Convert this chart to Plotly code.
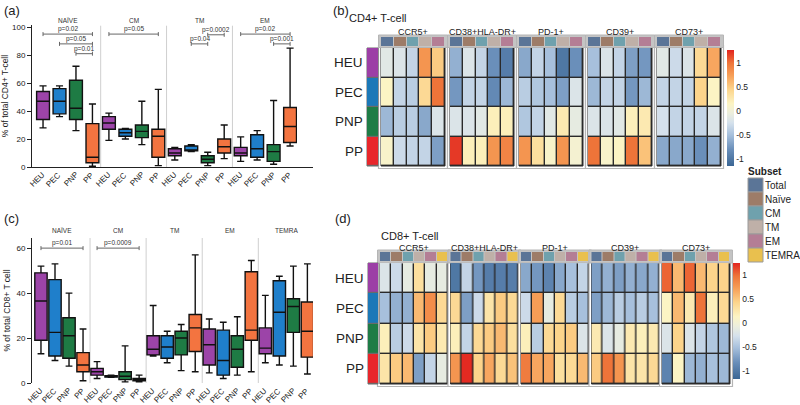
import plotly.graph_objects as go

W, H = 800, 405
FONT = "Arial, Liberation Sans, sans-serif"

# ---------------- data ----------------
groups = ["HEU", "PEC", "PNP", "PP"]
group_colors = ["#9c44a8", "#1f7fcb", "#1e7b44", "#f37440"]
row_colors = ["#9c3fa6", "#1b78b8", "#1e7c46", "#e8262b"]

# panel (a) CD4+ box statistics  [subset][group]
a_subsets = ["NAÏVE", "CM", "TM", "EM"]
a_min = [[28, 36, 26, 0.5], [19, 20, 16, 1], [5, 11, 1, 6], [4, 5, 2, 15]]
a_q1 = [[34, 38, 34, 3], [27, 22, 21, 7], [8, 11.5, 3, 10], [8, 7, 4, 17.5]]
a_med = [[47, 47, 42, 7], [31.5, 24.5, 25.5, 22], [10, 12, 5.5, 14.5], [10, 13, 11, 29]]
a_q3 = [[54, 56, 62, 31], [36, 27, 30, 27], [13, 15, 8, 20], [14, 23, 16, 42.5]]
a_max = [[58, 58, 72, 45], [38.5, 27.5, 47, 55.5], [14, 16, 10.5, 30], [21.5, 26, 47.5, 85]]
a_tests = [(0, 0, 3, 95, "p=0.02"), (0, 1, 3, 88, "p=0.05"), (0, 2, 3, 81, "p=0.01"),
           (1, 0, 3, 95, "p=0.05"), (2, 1, 2, 88, "p=0.04"), (2, 2, 3, 94.5, "p=0.0002"),
           (3, 0, 3, 95, "p=0.02"), (3, 2, 3, 88, "p=0.001")]

# panel (c) CD8+ box statistics
c_subsets = ["NAÏVE", "CM", "TM", "EM", "TEMRA"]
c_min = [[13, 10, 7.5, 1], [2, 2.5, 0.5, 0.5], [12, 9, 5.5, 5], [4.5, 2, 3.5, 5], [9, 8, 7.5, 4]]
c_q1 = [[19, 12, 11, 5], [3.5, 2.6, 1.5, 1], [12.5, 11, 12.5, 14], [8, 3.5, 7, 19], [13, 12, 22.5, 11.5]]
c_med = [[36.5, 22.5, 21, 8], [5, 3, 3, 1.5], [15, 16, 20, 24.5], [17, 10, 15, 23.5], [15.5, 31.5, 34, 23]]
c_q3 = [[49, 46, 29, 13.5], [6.5, 3.3, 5, 2], [21, 21, 23, 30.5], [24, 23.5, 21, 49.5], [24.5, 45.5, 37.5, 36]]
c_max = [[52, 53, 40, 24], [9.5, 3.5, 16.5, 3.5], [34.5, 23, 26, 57], [28.5, 27, 29.5, 54.5], [39, 47.5, 52, 53]]
c_tests = [(0, 0, 3, 60, "p=0.01"), (1, 0, 3, 60, "p=0.0009")]

# heatmaps
subsets = ["Total", "Naïve", "CM", "TM", "EM", "TEMRA"]
subset_colors = ["#5b7597", "#9d7c68", "#6fa1ad", "#bfb0a8", "#b47e95", "#e9c04e"]
markers = ["CCR5+", "CD38+HLA-DR+", "PD-1+", "CD39+", "CD73+"]

cd4_ccr5 = [[-0.15, -0.2, -0.35, 0.8, 0.5], [0.15, -0.35, -0.4, 0.4, 1.0],
            [-0.55, -0.4, -0.4, -0.65, -0.2], [0.1, -0.3, -0.35, -0.35, -0.7]]
cd4_cd38 = [[-0.6, -0.2, -0.35, -0.8, -0.95], [-0.75, -0.35, -0.35, -0.85, -0.55],
            [-0.2, -0.2, -0.15, 0.2, 0.2], [1.2, 0.2, 0.2, 0.8, 0.9]]
cd4_pd1 = [[-0.65, -0.35, -0.5, -1.0, -0.8], [-0.4, -0.45, -0.5, -0.7, -0.2],
           [-0.45, -0.35, -0.15, 0.25, -0.1], [0.8, 0.35, 0.1, 0.8, 0.05]]
cd4_cd39 = [[-0.5, -0.2, -0.35, -0.7, -0.75], [-0.55, -0.35, -0.35, -0.75, -0.55],
            [-0.2, -0.2, -0.15, 0.2, 0.25], [1.0, 0.1, 0.15, 1.0, 0.55]]
cd4_cd73 = [[-0.15, -0.3, -0.2, 0.4, 0.7], [-0.35, -0.35, -0.35, 0.45, 0.15],
            [-0.25, -0.35, -0.35, -0.35, -0.2], [-0.65, -0.65, -0.65, -0.8, -0.6]]

cd8_ccr5 = [[-0.2, -0.3, -0.1, 0.35, -0.1, -0.1], [-0.5, -0.6, -0.6, 0.6, 0.85, 0.4],
            [0.2, -0.4, -0.3, 0.3, 0.5, 0.25], [0.3, 0.5, 0.6, -0.7, -0.35, -0.1]]
cd8_cd38 = [[-1.0, -0.35, -0.75, -0.95, -0.95, -0.95], [0.4, -0.7, -0.3, 0.3, 0.5, 0.4],
            [0.2, -0.35, 0.4, 0.5, 0.6, 0.35], [0.8, 1.25, 0.45, 0.7, 0.4, 0.55]]
cd8_pd1 = [[-0.65, -0.75, -0.9, -0.65, -0.5, -0.35], [-0.3, 0.75, -0.1, 0.4, -0.4, -0.5],
           [0.2, -0.4, 0.4, 0.45, 0.5, -0.2], [0.95, 0.7, 0.7, 0.35, 0.4, 0.6]]
cd8_cd39 = [[-0.7, -0.6, -0.7, -0.6, -0.65, -0.6], [-0.7, -0.55, -0.4, -0.5, -0.4, -0.5],
            [0.25, -0.2, -0.1, 0.25, 0.2, 0.25], [0.5, 1.0, 0.8, 0.3, 0.3, 0.4]]
cd8_cd73 = [[1.05, 0.6, 1.05, 0.6, 0.45, 0.45], [0.15, 0.6, 0.25, 1.0, 0.2, 0.4],
            [-0.2, 0.45, -0.2, -0.35, -0.45, -0.55], [-0.9, 0.15, -0.55, -0.6, -0.5, -0.55]]

cd4_values = [cd4_ccr5, cd4_cd38, cd4_pd1, cd4_cd39, cd4_cd73]
cd8_values = [cd8_ccr5, cd8_cd38, cd8_pd1, cd8_cd39, cd8_cd73]

CMIN, CMAX = -1.15, 1.27
scale_stops = [(-1.15, "#3b6694"), (-0.8, "#6a8fba"), (-0.5, "#a7c0dc"), (-0.25, "#d5e1ec"),
               (-0.05, "#eceedd"), (0.15, "#fcf4c4"), (0.45, "#fcd48b"), (0.75, "#f69d56"),
               (1.0, "#ee7439"), (1.27, "#e2241f")]
colorscale = [[(v - CMIN) / (CMAX - CMIN), c] for v, c in scale_stops]
colorscale[0][0] = 0.0
colorscale[-1][0] = 1.0

fig = go.Figure()
shapes = []
annotations = []


def ann(**kw):
    f = dict(family=FONT, size=8, color="#222222")
    f.update(kw.pop("font", {}))
    base = dict(showarrow=False, font=f, xanchor="center", yanchor="middle", borderpad=0)
    base.update(kw)
    annotations.append(base)


# ---------------- box panels ----------------
def box_panel(xa, ya, subs, mn, q1, md, q3, mx, tests, width, label_py, sep_top,
              domx, domy, xr, yr):
    def xp(x):
        return (domx[0] + (x - xr[0]) / (xr[1] - xr[0]) * (domx[1] - domx[0])) / W

    n = len(subs)
    for k in range(len(groups)):
        xs = [s * 4 + k for s in range(n)]
        fig.add_trace(go.Box(
            x=xs, q1=[q1[s][k] for s in range(n)], median=[md[s][k] for s in range(n)],
            q3=[q3[s][k] for s in range(n)], lowerfence=[mn[s][k] for s in range(n)],
            upperfence=[mx[s][k] for s in range(n)], fillcolor=group_colors[k],
            line=dict(color="#111111", width=1.4), width=width, whiskerwidth=0.55,
            boxpoints=False, xaxis=xa, yaxis=ya, showlegend=False, hoverinfo="skip"))
    # rotated category labels under the axis
    for s in range(n):
        for k, gname in enumerate(groups):
            ann(xref="paper", yref="paper", x=xp(s * 4 + k) + 5 / W, y=1 - (domy[1] + 2) / H,
                xanchor="right", yanchor="top", textangle=-45, text=gname,
                font=dict(size=8, color="#222222"))
    for s in range(1, n):
        shapes.append(dict(type="line", xref=xa, yref=ya, x0=s * 4 - 0.5, x1=s * 4 - 0.5,
                           y0=0, y1=sep_top, line=dict(color="#cfcfcf", width=1), layer="below"))
    for s, name in enumerate(subs):
        ann(xref="paper", yref="paper", x=xp(s * 4 + 1.5), y=1 - label_py / H, text=name,
            font=dict(size=6.5, color="#333333"))
    for (s, i, j, y, txt) in tests:
        x0, x1 = s * 4 + i, s * 4 + j
        shapes.append(dict(type="line", xref=xa, yref=ya, x0=x0, x1=x1, y0=y, y1=y,
                           line=dict(color="#666666", width=1)))
        for xx in (x0, x1):
            shapes.append(dict(type="line", xref=xa, yref=ya, x0=xx, x1=xx,
                               y0=-2, y1=2, ysizemode="pixel", yanchor=y,
                               line=dict(color="#666666", width=1)))
        ann(xref=xa, yref=ya, x=(x0 + x1) / 2, y=y, yanchor="bottom", yshift=0,
            text=txt, font=dict(size=6.5, color="#333333"))


A_DOMX, A_DOMY, A_XR, A_YR = (32, 297), (25, 167), (-0.67, 15.42), (0, 101.5)
C_DOMX, C_DOMY, C_XR, C_YR = (32, 313), (238, 383), (-0.64, 19.4), (0, 64.5)

box_panel("x", "y", a_subsets, a_min, a_q1, a_med, a_q3, a_max, a_tests, 0.78, 21, 101,
          A_DOMX, A_DOMY, A_XR, A_YR)
box_panel("x2", "y2", c_subsets, c_min, c_q1, c_med, c_q3, c_max, c_tests, 0.88, 230, 64.5,
          C_DOMX, C_DOMY, C_XR, C_YR)

axis_font = dict(family=FONT, size=8, color="#222222")


def box_axes(domx, domy, xr, yr, yticks, title):
    xa = dict(domain=[domx[0] / W, domx[1] / W], range=list(xr), showticklabels=False,
              showline=True, linecolor="#222222", linewidth=1, ticks="", showgrid=False,
              zeroline=False, automargin=False, fixedrange=True)
    ya = dict(domain=[1 - domy[1] / H, 1 - domy[0] / H], range=list(yr), tickvals=yticks,
              showline=True, linecolor="#222222", linewidth=1, ticks="outside", ticklen=4,
              tickcolor="#222222", showgrid=False, zeroline=False, tickfont=axis_font,
              automargin=False, fixedrange=True,
              title=dict(text=title, font=dict(family=FONT, size=8.5, color="#222222"), standoff=4))
    return xa, ya


layout_axes = {}
layout_axes["xaxis"], layout_axes["yaxis"] = box_axes(A_DOMX, A_DOMY, A_XR, A_YR,
                                                      [0, 20, 40, 60, 80, 100], "% of total CD4+ T-cell")
layout_axes["xaxis2"], layout_axes["yaxis2"] = box_axes(C_DOMX, C_DOMY, C_XR, C_YR,
                                                        [0, 20, 40, 60], "% of total CD8+ T cell")


def discrete_scale(colors):
    n = len(colors)
    out = []
    for i, c in enumerate(colors):
        out.append([i / n, c])
        out.append([(i + 1) / n, c])
    return out


# ---------------- heatmap panels ----------------
def heat_panel(xa, ya, values, ncols, coloraxis, x0px, colw, steppx, toppx, rowh,
               domx, domy, ann_px, rowbar_px, title_py, label_px):
    u = lambda px: (px - x0px) / colw - 0.5
    v = lambda py: (py - toppx) / rowh - 0.5
    layout_axes["xaxis" + xa[1:]] = dict(domain=[domx[0] / W, domx[1] / W], range=[u(domx[0]), u(domx[1])],
                                         visible=False, fixedrange=True, automargin=False)
    layout_axes["yaxis" + ya[1:]] = dict(domain=[1 - domy[1] / H, 1 - domy[0] / H],
                                         range=[v(domy[1]), v(domy[0])],
                                         visible=False, fixedrange=True, automargin=False)
    nrows = len(groups)
    ye = [r - 0.5 for r in range(nrows + 1)]
    for g, vals in enumerate(values):
        gs = g * steppx / colw
        xe = [gs - 0.5 + c for c in range(ncols + 1)]
        pad = 2.5 / colw
        padv = 2.5 / rowh
        shapes.append(dict(type="rect", xref=xa, yref=ya, x0=xe[0] - pad, x1=xe[-1] + pad,
                           y0=-0.5 - padv, y1=nrows - 0.5 + padv, fillcolor="#ffffff",
                           line=dict(color="#b5b5b5", width=1.2), layer="below"))
        shapes.append(dict(type="rect", xref=xa, yref=ya, x0=xe[0], x1=xe[-1],
                           y0=-0.5, y1=nrows - 0.5, fillcolor="#2a2a2a",
                           line=dict(color="#2a2a2a", width=1), layer="below"))
        fig.add_trace(go.Heatmap(x=xe, y=ye, z=vals, coloraxis=coloraxis, xgap=1.4, ygap=1.4,
                                 xaxis=xa, yaxis=ya, hoverinfo="skip"))
        ya0, ya1 = v(ann_px[0]), v(ann_px[1])
        shapes.append(dict(type="rect", xref=xa, yref=ya, x0=xe[0] - pad, x1=xe[-1] + pad,
                           y0=ya0 - padv * 0.8, y1=ya1 + padv * 0.8, fillcolor="#c4c4c4",
                           line=dict(color="#b5b5b5", width=1), layer="below"))
        fig.add_trace(go.Heatmap(x=xe, y=[ya0, ya1], z=[list(range(ncols))],
                                 colorscale=discrete_scale(subset_colors[:ncols]),
                                 zmin=-0.5, zmax=ncols - 0.5, showscale=False, xgap=1,
                                 xaxis=xa, yaxis=ya, hoverinfo="skip"))
        ann(xref=xa, yref=ya, x=gs + (ncols - 1) / 2, y=v(title_py), text=markers[g],
            font=dict(size=9, color="#222222"))
    rx0, rx1 = u(rowbar_px[0]), u(rowbar_px[1])
    shapes.append(dict(type="rect", xref=xa, yref=ya, x0=rx0, x1=rx1, y0=-0.5, y1=nrows - 0.5,
                       fillcolor="#6a6a6a", line=dict(color="#6a6a6a", width=1), layer="below"))
    fig.add_trace(go.Heatmap(x=[rx0, rx1], y=ye, z=[[r] for r in range(nrows)],
                             colorscale=discrete_scale(row_colors), zmin=-0.5, zmax=nrows - 0.5,
                             showscale=False, ygap=1.2, xaxis=xa, yaxis=ya, hoverinfo="skip"))
    for r, name in enumerate(groups):
        ann(xref=xa, yref=ya, x=u(label_px), y=r, xanchor="right", text=name,
            font=dict(size=13.5, color="#222222"))


heat_panel("x3", "y3", cd4_values, 5, "coloraxis", 381, 12.8, 69, 48, 29.5,
           (335, 745), (22, 172), (37, 45.5), (367, 378), 32, 364)
heat_panel("x4", "y4", cd8_values, 6, "coloraxis2", 380, 11.33, 70.5, 263, 30.25,
           (335, 745), (238, 390), (252, 261), (368, 378), 248, 365)


def cbar(ypx_center, xpx, lenpx):
    return dict(x=xpx / W, xanchor="left", xpad=0, y=1 - ypx_center / H, yanchor="middle", ypad=0,
                len=lenpx, lenmode="pixels", thickness=7, outlinewidth=0,
                tickvals=[-1, -0.5, 0, 0.5, 1], ticktext=["-1", "-0.5", "0", "0.5", "1"],
                ticks="", tickfont=dict(family=FONT, size=8.5, color="#222222"))


# ---------------- subset legend ----------------
ann(xref="paper", yref="paper", x=747 / W, y=1 - 171 / H, xanchor="left", text="<b>Subset</b>",
    font=dict(size=10, color="#222222"))
for i, (name, col) in enumerate(zip(subsets, subset_colors)):
    top = 178 + i * 14
    shapes.append(dict(type="rect", xref="paper", yref="paper", x0=748 / W, x1=763 / W,
                       y0=1 - (top + 14) / H, y1=1 - top / H, fillcolor=col,
                       line=dict(color="#9a9a9a", width=1)))
    ann(xref="paper", yref="paper", x=764 / W, y=1 - (top + 7.5) / H, xanchor="left", text=name,
        font=dict(size=10, color="#222222"))

# ---------------- titles ----------------
for txt, xpx, ypx in [("(a)", 3, 11), ("(b)", 332, 11), ("(c)", 3, 218), ("(d)", 334, 218)]:
    ann(xref="paper", yref="paper", x=xpx / W, y=1 - ypx / H, xanchor="left", text=txt,
        font=dict(size=13, color="#222222"))
ann(xref="paper", yref="paper", x=348 / W, y=1 - 18 / H, xanchor="left", text="CD4+ T-cell",
    font=dict(size=11, color="#222222"))
ann(xref="paper", yref="paper", x=380 / W, y=1 - 236 / H, xanchor="left", text="CD8+ T-cell",
    font=dict(size=11, color="#222222"))

fig.update_layout(
    template="none",
    width=W, height=H, margin=dict(l=0, r=0, t=0, b=0, autoexpand=False),
    paper_bgcolor="white", plot_bgcolor="rgba(0,0,0,0)",
    font=dict(family=FONT, size=8, color="#222222"),
    boxmode="overlay", showlegend=False,
    coloraxis=dict(colorscale=colorscale, cmin=CMIN, cmax=CMAX, colorbar=cbar(108, 727, 116)),
    coloraxis2=dict(colorscale=colorscale, cmin=CMIN, cmax=CMAX, colorbar=cbar(320.5, 733, 116)),
    shapes=shapes, annotations=annotations,
    **layout_axes,
)

fig.write_html("out.html", config={"staticPlot": True},
               post_script="document.body.style.margin='0';document.body.style.overflow='hidden';")
